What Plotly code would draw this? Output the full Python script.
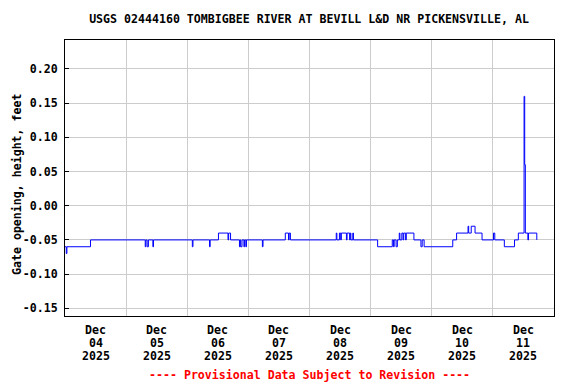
import pandas as pd
import plotly.graph_objects as go

# Step-change readings (value holds until next time)
times = [
    "2025-12-04 00:00", "2025-12-04 00:30", "2025-12-04 00:45", "2025-12-04 10:00",
    "2025-12-05 07:30", "2025-12-05 07:45", "2025-12-05 08:15", "2025-12-05 08:45",
    "2025-12-05 10:30", "2025-12-05 10:45",
    "2025-12-06 02:00", "2025-12-06 02:15", "2025-12-06 08:45", "2025-12-06 09:00",
    "2025-12-06 12:15", "2025-12-06 16:00", "2025-12-06 16:15", "2025-12-06 17:00",
    "2025-12-06 20:30", "2025-12-06 20:45", "2025-12-06 21:00", "2025-12-06 21:30",
    "2025-12-06 22:15", "2025-12-06 22:30", "2025-12-06 23:00", "2025-12-06 23:15",
    "2025-12-07 05:30", "2025-12-07 05:45", "2025-12-07 14:30", "2025-12-07 15:45",
    "2025-12-07 16:00", "2025-12-07 16:30",
    "2025-12-08 10:30", "2025-12-08 10:45", "2025-12-08 11:45", "2025-12-08 12:15",
    "2025-12-08 12:30", "2025-12-08 14:30", "2025-12-08 14:45", "2025-12-08 15:45",
    "2025-12-08 16:00", "2025-12-08 16:15", "2025-12-08 17:00", "2025-12-08 17:15",
    "2025-12-09 02:45", "2025-12-09 08:30", "2025-12-09 09:00", "2025-12-09 09:15",
    "2025-12-09 10:00", "2025-12-09 10:30", "2025-12-09 11:15", "2025-12-09 11:30",
    "2025-12-09 12:15", "2025-12-09 12:45", "2025-12-09 13:00", "2025-12-09 13:45",
    "2025-12-09 14:00", "2025-12-09 17:00", "2025-12-09 19:45", "2025-12-09 20:15",
    "2025-12-09 21:00",
    "2025-12-10 08:15", "2025-12-10 09:45", "2025-12-10 14:15", "2025-12-10 14:30",
    "2025-12-10 15:30", "2025-12-10 17:00", "2025-12-10 19:45",
    "2025-12-11 00:15", "2025-12-11 00:45", "2025-12-11 04:30", "2025-12-11 08:30",
    "2025-12-11 10:00", "2025-12-11 12:15", "2025-12-11 12:30", "2025-12-11 12:45",
    "2025-12-11 13:45", "2025-12-11 14:00", "2025-12-11 17:15",
]
values = [
    -0.06, -0.07, -0.06, -0.05,
    -0.06, -0.05, -0.06, -0.05,
    -0.06, -0.05,
    -0.06, -0.05, -0.06, -0.05,
    -0.04, -0.05, -0.04, -0.05,
    -0.06, -0.05, -0.06, -0.05,
    -0.06, -0.05, -0.06, -0.05,
    -0.06, -0.05, -0.04, -0.05,
    -0.04, -0.05,
    -0.04, -0.05, -0.04, -0.05,
    -0.04, -0.05, -0.04, -0.05,
    -0.04, -0.05, -0.04, -0.05,
    -0.06, -0.05, -0.06, -0.05,
    -0.06, -0.05, -0.04, -0.05,
    -0.04, -0.05, -0.04, -0.05,
    -0.04, -0.05, -0.06, -0.05,
    -0.06,
    -0.05, -0.04, -0.03, -0.04,
    -0.03, -0.04, -0.05,
    -0.04, -0.05, -0.06, -0.05,
    -0.04, 0.16, 0.06, -0.04,
    -0.05, -0.04, -0.05,
]

day_dates = ["2025-12-04", "2025-12-05", "2025-12-06", "2025-12-07",
             "2025-12-08", "2025-12-09", "2025-12-10", "2025-12-11"]
day_months = ["Dec"] * 8
day_numbers = ["04", "05", "06", "07", "08", "09", "10", "11"]
day_years = ["2025"] * 8
y_tickvals = [-0.15, -0.10, -0.05, 0.00, 0.05, 0.10, 0.15, 0.20]
y_ticktext = ["-0.15", "-0.10", "-0.05", "0.00", "0.05", "0.10", "0.15", "0.20"]

FONT = "DejaVu Sans Mono"
FS = 11.6
# page body has an 8px default margin; figure sized to fit the 576x384 window
W, H, OFF = 568, 376, 8

x_ticks = [pd.Timestamp(d) + pd.Timedelta(hours=12) for d in day_dates]

fig = go.Figure()
fig.add_trace(go.Scatter(
    x=pd.to_datetime(times), y=values, mode="lines",
    line=dict(color="#0000ff", width=1, shape="hv"),
    showlegend=False,
))

fig.update_layout(
    width=W, height=H,
    margin=dict(l=65 - OFF, r=22, t=40 - OFF, b=68),
    paper_bgcolor="white", plot_bgcolor="white",
    font=dict(family=FONT, size=FS, color="black"),
    title=dict(text="<b>USGS 02444160 TOMBIGBEE RIVER AT BEVILL L&D NR PICKENSVILLE, AL</b>",
               xref="container", x=(309 - OFF) / W, xanchor="center",
               yref="container", y=1 - (19 - OFF) / H, yanchor="middle",
               font=dict(family=FONT, size=FS, color="black")),
)

fig.update_xaxes(
    range=[pd.Timestamp("2025-12-04 00:00"), pd.Timestamp("2025-12-12 00:00")],
    tickmode="array", tickvals=x_ticks, ticktext=[""] * len(x_ticks),
    ticks="", showgrid=False, automargin=False,
    minor=dict(dtick=86400000, tick0="2025-12-04", showgrid=True,
               gridcolor="#cccccc", gridwidth=1, ticks=""),
    showline=True, linecolor="black", linewidth=1, mirror=True,
    zeroline=False,
)
fig.update_yaxes(
    range=[-0.1613, 0.2424],
    tickmode="array", tickvals=y_tickvals,
    ticktext=["<b>" + t + "</b>" for t in y_ticktext],
    ticks="inside", ticklen=4, tickcolor="black",
    showgrid=True, gridcolor="#cccccc", gridwidth=1,
    showline=True, linecolor="black", linewidth=1, mirror=True,
    tickfont=dict(family=FONT, size=FS, color="black"),
    ticklabelstandoff=4, automargin=False,
    zeroline=False,
)

# y-axis title
fig.add_annotation(
    text="<b>Gate opening, height, feet</b>", textangle=-90,
    xref="paper", x=0, xshift=-(65 - 17), yref="paper", y=0.5, yshift=-6,
    xanchor="center", yanchor="middle", showarrow=False,
    font=dict(family=FONT, size=FS, color="black"),
)

# three-line date labels under each day
for xt, rows in zip(x_ticks, zip(day_months, day_numbers, day_years)):
    for i, txt in enumerate(rows):
        fig.add_annotation(
            text="<b>" + txt + "</b>", x=xt, xref="x", y=0, yref="paper",
            yshift=-14 - 13 * i, xanchor="center", yanchor="middle",
            showarrow=False, font=dict(family=FONT, size=FS, color="black"),
        )

fig.add_annotation(
    text="<b>---- Provisional Data Subject to Revision ----</b>",
    xref="paper", yref="paper", x=0.5, y=0, yshift=-59,
    xanchor="center", yanchor="middle", showarrow=False,
    font=dict(family=FONT, size=FS, color="#ff0000"),
)

fig.write_html("out.html")
